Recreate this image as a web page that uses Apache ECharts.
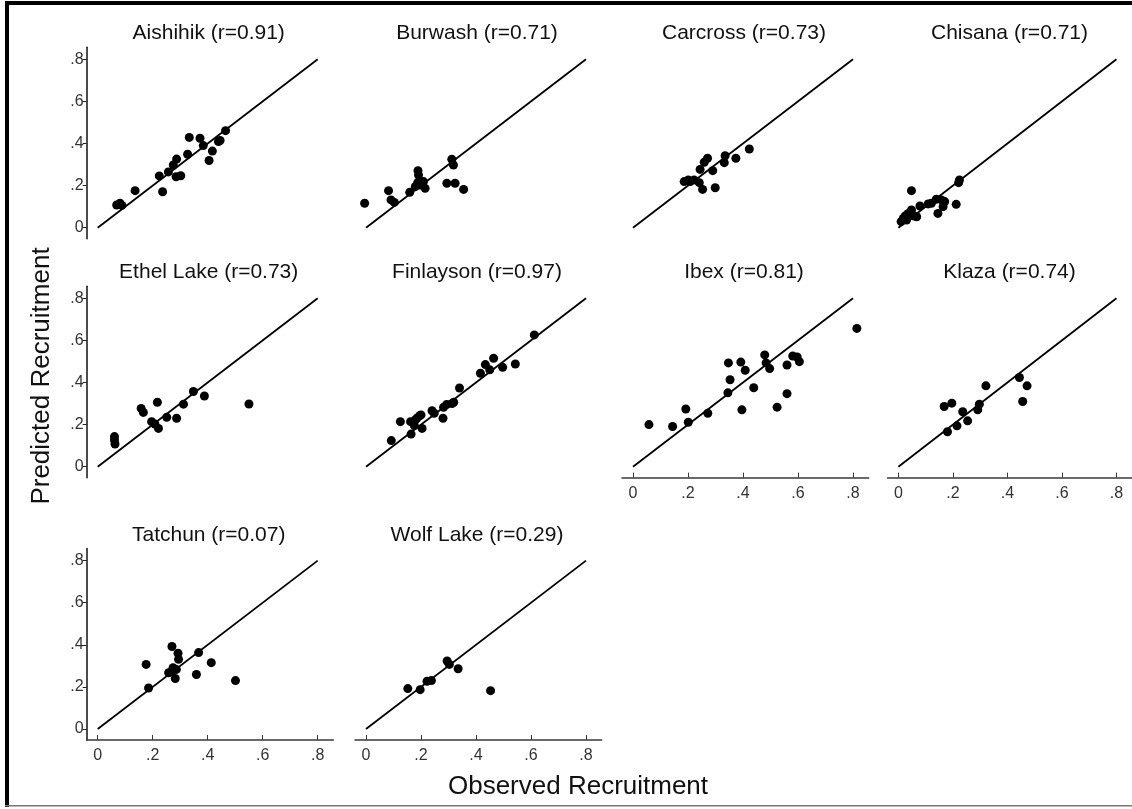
<!DOCTYPE html>
<html>
<head>
<meta charset="utf-8">
<script src="https://cdn.jsdelivr.net/npm/echarts@6/dist/echarts.min.js"></script>
<style>
html,body{margin:0;padding:0;background:#fff;}
#chart{width:1132px;height:809px;}
</style>
</head>
<body>
<div id="chart"></div>
<script>
// ---- Data (observed, predicted) ----
const siteNames = ['Aishihik','Burwash','Carcross','Chisana','Ethel Lake','Finlayson','Ibex','Klaza','Tatchun','Wolf Lake'];
const rValues = ['0.91','0.71','0.73','0.71','0.73','0.97','0.81','0.74','0.07','0.29'];

const aishihik = [[0.069,0.108],[0.081,0.116],[0.088,0.106],[0.136,0.176],[0.224,0.246],[0.236,0.171],[0.257,0.265],[0.275,0.298],[0.287,0.326],[0.285,0.242],[0.302,0.247],[0.327,0.349],[0.333,0.429],[0.372,0.425],[0.384,0.390],[0.405,0.319],[0.417,0.364],[0.439,0.409],[0.445,0.414],[0.465,0.461]];
const burwash = [[-0.005,0.116],[0.082,0.176],[0.091,0.132],[0.103,0.120],[0.159,0.168],[0.179,0.195],[0.189,0.271],[0.191,0.250],[0.188,0.214],[0.197,0.203],[0.215,0.187],[0.209,0.219],[0.294,0.211],[0.324,0.211],[0.312,0.325],[0.318,0.298],[0.355,0.182]];
const carcross = [[0.186,0.219],[0.201,0.227],[0.208,0.219],[0.222,0.227],[0.241,0.214],[0.253,0.182],[0.244,0.277],[0.259,0.311],[0.271,0.330],[0.290,0.271],[0.299,0.190],[0.332,0.309],[0.335,0.342],[0.374,0.330],[0.423,0.374]];
const chisana = [[0.010,0.029],[0.018,0.044],[0.024,0.055],[0.030,0.036],[0.036,0.068],[0.048,0.084],[0.048,0.176],[0.058,0.055],[0.067,0.052],[0.079,0.103],[0.109,0.113],[0.121,0.116],[0.139,0.135],[0.145,0.068],[0.158,0.132],[0.170,0.124],[0.164,0.100],[0.212,0.111],[0.221,0.214],[0.224,0.227]];
const ethelLake = [[0.061,0.143],[0.061,0.127],[0.063,0.108],[0.158,0.277],[0.166,0.258],[0.196,0.214],[0.217,0.306],[0.208,0.203],[0.221,0.182],[0.251,0.235],[0.287,0.230],[0.312,0.297],[0.348,0.357],[0.388,0.336],[0.550,0.298]];
const finlayson = [[0.092,0.124],[0.125,0.214],[0.162,0.214],[0.164,0.155],[0.176,0.195],[0.179,0.222],[0.185,0.230],[0.195,0.242],[0.200,0.246],[0.204,0.182],[0.240,0.266],[0.248,0.254],[0.280,0.230],[0.282,0.282],[0.293,0.295],[0.313,0.300],[0.319,0.306],[0.340,0.374],[0.416,0.444],[0.434,0.485],[0.450,0.460],[0.464,0.515],[0.497,0.472],[0.543,0.488],[0.612,0.626]];
const ibex = [[0.058,0.200],[0.144,0.191],[0.192,0.274],[0.201,0.211],[0.272,0.254],[0.345,0.351],[0.353,0.413],[0.347,0.493],[0.392,0.497],[0.408,0.458],[0.396,0.270],[0.439,0.375],[0.479,0.531],[0.484,0.493],[0.497,0.466],[0.524,0.283],[0.560,0.483],[0.560,0.347],[0.581,0.526],[0.597,0.521],[0.605,0.499],[0.814,0.657]];
const klaza = [[0.168,0.286],[0.196,0.302],[0.180,0.166],[0.215,0.194],[0.236,0.261],[0.254,0.218],[0.291,0.270],[0.297,0.297],[0.321,0.384],[0.444,0.424],[0.472,0.384],[0.456,0.310]];
const tatchun = [[0.176,0.307],[0.185,0.195],[0.258,0.267],[0.270,0.392],[0.270,0.275],[0.274,0.291],[0.282,0.240],[0.286,0.283],[0.292,0.360],[0.294,0.331],[0.359,0.259],[0.367,0.363],[0.413,0.315],[0.501,0.230]];
const wolfLake = [[0.152,0.192],[0.197,0.187],[0.222,0.227],[0.238,0.230],[0.295,0.323],[0.303,0.307],[0.335,0.286],[0.453,0.182]];

const siteData = [aishihik, burwash, carcross, chisana, ethelLake, finlayson, ibex, klaza, tatchun, wolfLake];

const tickValues = [0, 0.2, 0.4, 0.6, 0.8];
const tickLabels = ['0', '.2', '.4', '.6', '.8'];
const lineEnds = [0, 0.8];   // 1:1 reference line

// ---- Layout ----
const COLX = [97.7, 366, 633, 898.5];   // pixel of value 0 on x
const ROWY = [227.7, 466.7, 729];       // pixel of value 0 on y
const PX = 275, PY = 210.5;             // pixels per unit
const XMIN = -0.04, XMAX = 0.857, YMIN = -0.052, YMAX = 0.857;
const FONT = '"Liberation Sans", Arial, sans-serif';

// which panels show axes
const showY = [true,false,false,false,true,false,false,false,true,false];
const showX = [false,false,false,false,false,false,true,true,true,true];

const grids = [], xAxes = [], yAxes = [], series = [], graphics = [];
const labelFmt = v => { const i = tickValues.findIndex(t => Math.abs(t - v) < 1e-9); return i >= 0 ? tickLabels[i] : ''; };

siteNames.forEach((name, i) => {
  const c = i % 4, r = Math.floor(i / 4);
  const x0 = COLX[c], y0 = ROWY[r];
  grids.push({
    left: x0 + XMIN * PX, top: y0 - YMAX * PY,
    width: (XMAX - XMIN) * PX, height: (YMAX - YMIN) * PY,
    containLabel: false
  });
  xAxes.push({
    type: 'value', gridIndex: i, min: XMIN, max: XMAX,
    splitLine: { show: false },
    axisLine: { show: showX[i], onZero: false, lineStyle: { color: '#3a3a3a', width: 1.5 } },
    axisTick: { show: showX[i], inside: true, length: 5, customValues: tickValues, lineStyle: { color: '#3a3a3a', width: 1 } },
    axisLabel: { show: showX[i], customValues: tickValues, formatter: labelFmt, margin: 8,
                 fontSize: 16, fontFamily: FONT, color: '#333' }
  });
  yAxes.push({
    type: 'value', gridIndex: i, min: YMIN, max: YMAX,
    splitLine: { show: false },
    axisLine: { show: showY[i], onZero: false, lineStyle: { color: '#111', width: 1.5 } },
    axisTick: { show: showY[i], inside: false, length: 4, customValues: tickValues, lineStyle: { color: '#222', width: 1 } },
    axisLabel: { show: showY[i], customValues: tickValues, formatter: labelFmt, margin: 3,
                 fontSize: 16, fontFamily: FONT, color: '#333' }
  });
  series.push({
    type: 'line', xAxisIndex: i, yAxisIndex: i,
    data: lineEnds.map(v => [v, v]),
    symbol: 'none', silent: true, animation: false,
    lineStyle: { color: '#000', width: 1.8 }
  });
  series.push({
    type: 'scatter', xAxisIndex: i, yAxisIndex: i,
    data: siteData[i], symbol: 'circle', symbolSize: 9, clip: false,
    animation: false,
    itemStyle: { color: '#000', opacity: 1 }
  });
  graphics.push({
    type: 'text', x: x0 + 0.4 * PX + 1, y: y0 - 194,
    style: { text: name + ' (r=' + rValues[i] + ')', fontSize: 21, fontFamily: FONT, fill: '#111',
             textAlign: 'center', textVerticalAlign: 'middle', align: 'center', verticalAlign: 'middle' }
  });
});

// axis titles
graphics.push({
  type: 'text', x: 578, y: 787,
  style: { text: 'Observed Recruitment', fontSize: 26, fontFamily: FONT, fill: '#111',
           textAlign: 'center', textVerticalAlign: 'middle', align: 'center', verticalAlign: 'middle' }
});
graphics.push({
  type: 'text', x: 42, y: 376, rotation: Math.PI / 2,
  style: { text: 'Predicted Recruitment', fontSize: 26, fontFamily: FONT, fill: '#111',
           textAlign: 'center', textVerticalAlign: 'middle', align: 'center', verticalAlign: 'middle' }
});
// frame
graphics.push({ type: 'rect', shape: { x: 5, y: 1, width: 1127, height: 4 }, style: { fill: '#000' } });
graphics.push({ type: 'rect', shape: { x: 5, y: 1, width: 4, height: 806 }, style: { fill: '#000' } });
graphics.push({ type: 'rect', shape: { x: 5, y: 805, width: 1127, height: 1.5 }, style: { fill: '#777' } });

const chart = echarts.init(document.getElementById('chart'), null, { renderer: 'canvas' });
chart.setOption({
  backgroundColor: '#fff',
  animation: false,
  grid: grids, xAxis: xAxes, yAxis: yAxes, series: series,
  graphic: graphics
});
</script>
</body>
</html>
